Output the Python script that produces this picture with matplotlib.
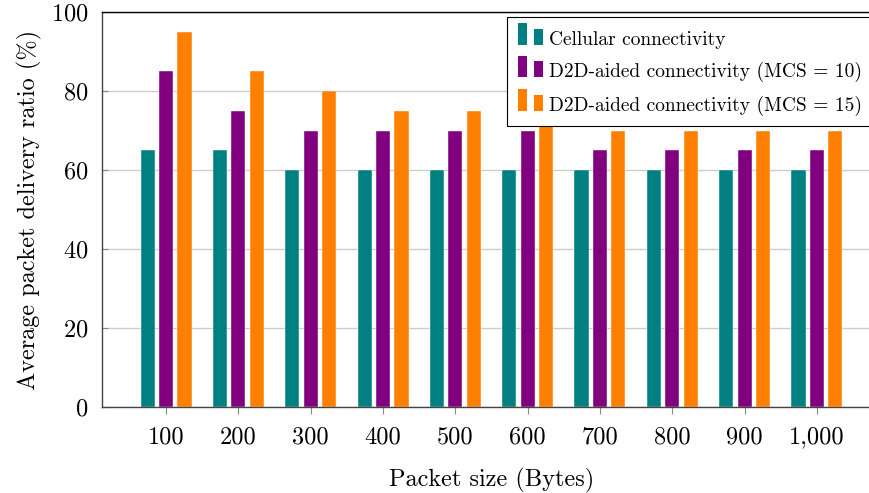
import numpy as np
import matplotlib
matplotlib.use("Agg")
import matplotlib.pyplot as plt
from matplotlib.legend_handler import HandlerBase
from matplotlib.patches import Rectangle

plt.rcParams['font.family'] = ['cmr10', 'DejaVu Serif']
plt.rcParams['axes.formatter.use_mathtext'] = True

sizes = [100, 200, 300, 400, 500, 600, 700, 800, 900, 1000]
size_labels = ['100', '200', '300', '400', '500', '600', '700', '800', '900', '1,000']
cellular = [65, 65, 60, 60, 60, 60, 60, 60, 60, 60]
d2d_mcs10 = [85, 75, 70, 70, 70, 70, 65, 65, 65, 65]
d2d_mcs15 = [95, 85, 80, 75, 75, 75, 70, 70, 70, 70]

series = [
    (cellular, '#008080', 'Cellular connectivity'),
    (d2d_mcs10, '#800080', 'D2D-aided connectivity (MCS = 10)'),
    (d2d_mcs15, '#ff8000', 'D2D-aided connectivity (MCS = 15)'),
]


class YbarHandler(HandlerBase):
    # pgfplots-like ybar legend: two small bars of different height
    def create_artists(self, legend, orig_handle, xdescent, ydescent,
                       width, height, fontsize, trans):
        c = orig_handle.get_facecolor()
        w = width * 0.36
        y0 = -ydescent + height * 0.2
        r1 = Rectangle((-xdescent, y0), w, height * 1.0,
                       facecolor=c, edgecolor='none', transform=trans)
        r2 = Rectangle((-xdescent + width * 0.64, y0), w, height * 0.75,
                       facecolor=c, edgecolor='none', transform=trans)
        return [r1, r2]


fig = plt.figure(figsize=(8.7, 4.93), dpi=100)
ax = fig.add_axes([102 / 870, 86 / 493, 779 / 870, 395 / 493])

x = np.array(sizes, dtype=float)
offsets = [-25.5, 0, 25.5]
handles = []
for (vals, col, lab), off in zip(series, offsets):
    b = ax.bar(x + off, vals, width=19.5, color=col, edgecolor='white',
               linewidth=0.3, label=lab, zorder=2)
    handles.append(b.patches[0])

ax.set_xlim(11.5, 1088.5)
ax.set_ylim(0, 100)
ax.set_xticks(sizes)
ax.set_xticklabels(size_labels)
ax.set_yticks([0, 20, 40, 60, 80, 100])
ax.yaxis.grid(True, color='#cccccc', linewidth=1.0, zorder=0)
ax.set_axisbelow(True)

ax.tick_params(axis='x', direction='out', length=5, width=0.8, color='#888888',
               labelsize=17.5, pad=9)
ax.tick_params(axis='y', direction='in', length=4, width=0.8, color='#888888',
               labelsize=17.5, pad=10)
for sp in ax.spines.values():
    sp.set_linewidth(1.0)
ax.spines['left'].set_color('#444444')
ax.spines['bottom'].set_color('#444444')

ax.set_xlabel('Packet size (Bytes)', fontsize=17.5, labelpad=14)
ax.set_ylabel('Average packet delivery ratio (%)', fontsize=17.5, labelpad=6)

leg = ax.legend(handles, [s[2] for s in series], loc='upper left',
                bbox_to_anchor=(507 / 870, 1 - 17 / 493), bbox_transform=fig.transFigure,
                handler_map={Rectangle: YbarHandler()}, fontsize=14,
                frameon=True, fancybox=False, framealpha=1, edgecolor='black',
                handlelength=1.29, handleheight=1.3, handletextpad=0.3,
                labelspacing=0.58, borderpad=0.55, borderaxespad=0)
leg.get_frame().set_linewidth(0.8)

fig.savefig('out.png', dpi=100)
